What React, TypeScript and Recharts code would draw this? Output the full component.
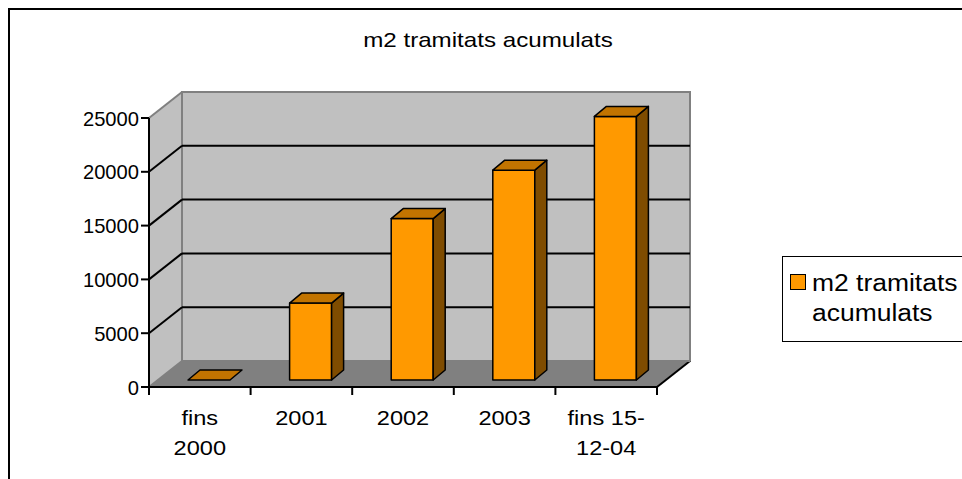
import React from "react";
import { BarChart, Bar, XAxis, YAxis, CartesianGrid } from "recharts";

const categories = ["fins\n2000", "2001", "2002", "2003", "fins 15-\n12-04"];
const m2Values = [0, 7150, 15000, 19500, 24500];
const yTicks = [0, 5000, 10000, 15000, 20000, 25000];
const seriesName = "m2 tramitats acumulats";

const data = categories.map((category, i) => ({ category, value: m2Values[i] }));

// layout (chart coordinates)
const W = 952;
const H = 469;
const PL = 139;
const PR = 647;
const PT = 108;
const PB = 377;
const DX = 33; // wall depth
const DY = 26;
const SHIFT_X = 9; // bars sit a bit behind the front plane
const SHIFT_Y = 7;
const BDX = 12; // bar depth
const BDY = 10;
const BAND = (PR - PL) / categories.length;
const SX = 1.15;
const FONT = "'Liberation Sans', Arial, sans-serif";

const SText = ({ x, y, anchor, size, sx = SX, children }: any) => (
  <text
    transform={`translate(${x} ${y}) scale(${sx} 1)`}
    textAnchor={anchor}
    fontSize={size}
    fontFamily={FONT}
    fill="#000"
  >
    {children}
  </text>
);

const Walls = () => (
  <g>
    <polygon
      points={`${PL},${PT} ${PL + DX},${PT - DY} ${PL + DX},${PB - DY} ${PL},${PB}`}
      fill="#c0c0c0"
    />
    <polygon
      points={`${PL + DX},${PT - DY} ${PR + DX},${PT - DY} ${PR + DX},${PB - DY} ${PL + DX},${PB - DY}`}
      fill="#c0c0c0"
      stroke="#808080"
      strokeWidth={2}
    />
    <polygon
      points={`${PL},${PB} ${PL + DX},${PB - DY} ${PR + DX},${PB - DY} ${PR},${PB}`}
      fill="#808080"
    />
    <line x1={PR} y1={PB} x2={PR + DX} y2={PB - DY} stroke="#000" strokeWidth={2} />
  </g>
);

const renderGridLine = (props: any) => {
  const { x1, x2, y1, index } = props;
  const edge = Math.abs(y1 - PT) < 1 || Math.abs(y1 - PB) < 1;
  const color = edge ? "#808080" : "#000";
  return (
    <g key={`grid-${index}`}>
      {index === 0 && <Walls />}
      <line x1={x1} y1={y1} x2={x1 + DX} y2={y1 - DY} stroke={color} strokeWidth={2} />
      <line x1={x1 + DX} y1={y1 - DY} x2={x2 + DX} y2={y1 - DY} stroke={color} strokeWidth={2} />
    </g>
  );
};

const Box3D = (props: any) => {
  const { x, y, width, height } = props;
  const fx = x + SHIFT_X;
  const fy = y - SHIFT_Y;
  const h = Math.max(0, height);
  return (
    <g stroke="#000" strokeWidth={1.5} strokeLinejoin="round">
      {h > 0 && <rect x={fx} y={fy} width={width} height={h} fill="#ff9900" />}
      {h > 0 && (
        <polygon
          points={`${fx + width},${fy} ${fx + width + BDX},${fy - BDY} ${fx + width + BDX},${fy + h - BDY} ${fx + width},${fy + h}`}
          fill="#7f4c00"
        />
      )}
      <polygon
        points={`${fx},${fy} ${fx + BDX},${fy - BDY} ${fx + width + BDX},${fy - BDY} ${fx + width},${fy}`}
        fill="#c27400"
      />
    </g>
  );
};

const YTick = (props: any) => {
  const { x, y, payload } = props;
  return (
    <SText x={x} y={y + 7.5} anchor="end" size={21} sx={0.96}>
      {payload.value}
    </SText>
  );
};

const XTick = (props: any) => {
  const { x, payload, index } = props;
  const lines = String(payload.value).split("\n");
  return (
    <g>
      <line x1={x - BAND / 2} y1={PB} x2={x - BAND / 2} y2={PB + 8} stroke="#000" strokeWidth={2} />
      {index === categories.length - 1 && (
        <line x1={x + BAND / 2} y1={PB} x2={x + BAND / 2} y2={PB + 8} stroke="#000" strokeWidth={2} />
      )}
      {lines.map((t, i) => (
        <SText key={i} x={x} y={PB + 38 + i * 30} anchor="middle" size={20.5}>
          {t}
        </SText>
      ))}
    </g>
  );
};

export default function App() {
  return (
    <div
      style={{
        position: "fixed",
        left: 8,
        top: 8,
        width: 954,
        height: 471,
        borderTop: "2px solid #000",
        borderLeft: "2px solid #000",
        boxSizing: "border-box",
        overflow: "hidden",
        fontFamily: FONT,
        background: "#fff",
      }}
    >
      <div
        style={{
          position: "absolute",
          left: 0,
          width: 956,
          top: 18,
          textAlign: "center",
          fontSize: 21,
          transform: `scaleX(${SX})`,
          transformOrigin: "478px 0",
          whiteSpace: "nowrap",
        }}
      >
        {seriesName}
      </div>
      <BarChart
        width={W}
        height={H}
        data={data}
        margin={{ top: PT, right: W - PR, left: PL - 60, bottom: H - PB - 80 }}
      >
        <CartesianGrid vertical={false} horizontal={renderGridLine} />
        <XAxis
          dataKey="category"
          interval={0}
          height={80}
          axisLine={{ stroke: "#000", strokeWidth: 2 }}
          tickLine={false}
          tick={<XTick />}
        />
        <YAxis
          domain={[0, 25000]}
          ticks={yTicks}
          interval={0}
          width={60}
          tickSize={8}
          axisLine={{ stroke: "#000", strokeWidth: 2 }}
          tickLine={{ stroke: "#000", strokeWidth: 2 }}
          tick={<YTick />}
        />
        <Bar dataKey="value" barSize={42} shape={<Box3D />} isAnimationActive={false} />
      </BarChart>
      <div
        style={{
          position: "absolute",
          left: 772,
          top: 246,
          width: 260,
          height: 86,
          border: "1.5px solid #000",
          boxSizing: "border-box",
          background: "#fff",
        }}
      >
        <div
          style={{
            position: "absolute",
            left: 7,
            top: 17,
            width: 16,
            height: 16,
            boxSizing: "border-box",
            border: "1.5px solid #000",
            background: "#ff9900",
          }}
        />
        <div
          style={{
            position: "absolute",
            left: 29,
            top: 11,
            fontSize: 23,
            lineHeight: "30px",
            transform: `scaleX(${SX})`,
            transformOrigin: "0 0",
            whiteSpace: "nowrap",
          }}
        >
          m2 tramitats
          <br />
          acumulats
        </div>
      </div>
    </div>
  );
}
